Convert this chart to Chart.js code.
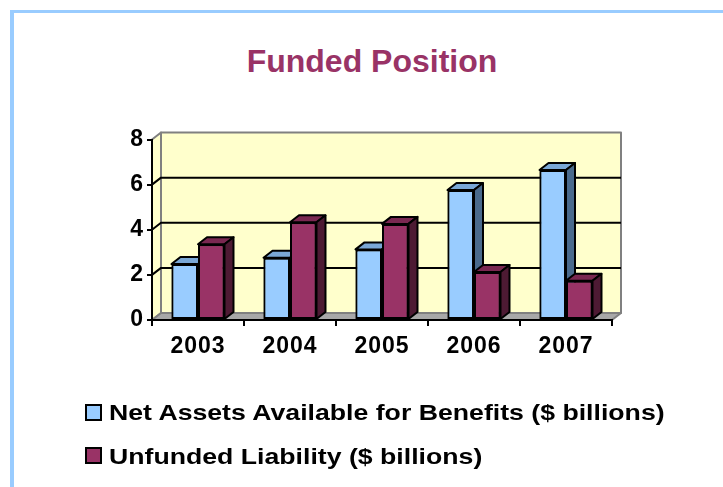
<!DOCTYPE html>
<html>
<head>
<meta charset="utf-8">
<script src="https://cdn.jsdelivr.net/npm/chart.js@4.4.1/dist/chart.umd.min.js"></script>
<style>
  html, body { margin: 0; padding: 0; background: #fff; }
  body { width: 723px; height: 487px; position: relative; overflow: hidden; font-family: "Liberation Sans", Arial, sans-serif; }
  #frame { position: absolute; left: 10px; top: 10px; width: 800px; height: 600px; border-left: 4px solid #99ccff; border-top: 3px solid #99ccff; }
  #title { position: absolute; left: 0; width: 744px; top: 44.6px; text-align: center; font-size: 32px; line-height: 32px; font-weight: bold; color: #993366; }
  canvas { position: absolute; left: 0; top: 0; }
  .box { position: absolute; left: 85px; width: 13px; height: 13px; border: 2px solid #000; }
  .lab { position: absolute; left: 109px; font-size: 22.5px; line-height: 22.5px; font-weight: bold; color: #000; white-space: nowrap; transform: scaleX(1.185); transform-origin: 0 0; }
</style>
</head>
<body>
<div id="frame"></div>
<div id="title">Funded Position</div>
<canvas id="chart" width="723" height="487"></canvas>
<div id="legend"></div>
<script>
const years = ['2003', '2004', '2005', '2006', '2007'];
const netAssets = [2.48, 2.76, 3.13, 5.76, 6.65];
const unfunded = [3.36, 4.33, 4.26, 2.13, 1.74];
const seriesNames = ['Net Assets Available for Benefits ($ billions)', 'Unfunded Liability ($ billions)'];

const fronts = ['#99ccff', '#993366'];
const faces = [
  { top: '#7aa7d6', side: '#4a6a8c' },
  { top: '#7a2851', side: '#4d1a33' }
];
const DX = 9, DY = 7;

// legend in html
const legend = document.getElementById('legend');
seriesNames.forEach((name, i) => {
  const b = document.createElement('div');
  b.className = 'box';
  b.style.top = (404 + i * 43) + 'px';
  b.style.background = fronts[i];
  const l = document.createElement('div');
  l.className = 'lab';
  l.style.top = (402 + i * 44) + 'px';
  l.textContent = name;
  legend.appendChild(b);
  legend.appendChild(l);
});

function poly(ctx, pts, fill, stroke, lw) {
  ctx.beginPath();
  ctx.moveTo(pts[0][0], pts[0][1]);
  for (let i = 1; i < pts.length; i++) ctx.lineTo(pts[i][0], pts[i][1]);
  ctx.closePath();
  if (fill) { ctx.fillStyle = fill; ctx.fill(); }
  if (stroke) { ctx.strokeStyle = stroke; ctx.lineWidth = lw; ctx.stroke(); }
}

const walls = {
  id: 'walls',
  beforeDraw(chart) {
    const { ctx, chartArea: a, scales: { y } } = chart;
    ctx.letterSpacing = '1px';
    ctx.save();
    ctx.lineJoin = 'round';
    // left wall + back wall
    poly(ctx, [[a.left, a.top], [a.left + DX, a.top - DY], [a.left + DX, a.bottom - DY], [a.left, a.bottom]], '#ffffcc', '#808080', 2);
    poly(ctx, [[a.left + DX, a.top - DY], [a.right + DX, a.top - DY], [a.right + DX, a.bottom - DY], [a.left + DX, a.bottom - DY]], '#ffffcc', '#808080', 2);
    // gridlines
    ctx.strokeStyle = '#000';
    ctx.lineWidth = 2;
    y.ticks.forEach(t => {
      if (t.value <= y.min || t.value >= y.max) return;
      const py = y.getPixelForValue(t.value);
      ctx.beginPath();
      ctx.moveTo(a.left, py);
      ctx.lineTo(a.left + DX, py - DY);
      ctx.lineTo(a.right + DX, py - DY);
      ctx.stroke();
    });
    // floor
    poly(ctx, [[a.left, a.bottom], [a.right, a.bottom], [a.right + DX, a.bottom - DY], [a.left + DX, a.bottom - DY]], '#a8a8a8', '#808080', 2);
    ctx.restore();
  },
  afterDatasetsDraw(chart) {
    const ctx = chart.ctx;
    const metas = chart.data.datasets.map((d, i) => chart.getDatasetMeta(i));
    ctx.save();
    ctx.lineJoin = 'round';
    years.forEach((yr, j) => {
      metas.forEach((meta, i) => {
        const bar = meta.data[j];
        bar.draw(ctx);
        const { x, y, base, width } = bar.getProps(['x', 'y', 'base', 'width'], true);
        const x0 = x - width / 2, x1 = x + width / 2;
        poly(ctx, [[x0, y], [x1, y], [x1 + DX, y - DY], [x0 + DX, y - DY]], faces[i].top, '#000', 2);
        poly(ctx, [[x1, y], [x1 + DX, y - DY], [x1 + DX, base - DY], [x1, base]], faces[i].side, '#000', 2);
      });
    });
    ctx.restore();
  },
  afterDraw(chart) {
    chart.ctx.letterSpacing = '0px';
  }
};

const tickFont = { family: "'Liberation Sans', Arial, sans-serif", size: 23, weight: 'bold' };

new Chart(document.getElementById('chart'), {
  type: 'bar',
  plugins: [walls],
  data: {
    labels: years,
    datasets: [
      { label: seriesNames[0], data: netAssets, backgroundColor: fronts[0] },
      { label: seriesNames[1], data: unfunded, backgroundColor: fronts[1] }
    ]
  },
  options: {
    responsive: false,
    animation: false,
    devicePixelRatio: 1,
    layout: { padding: { left: 100, right: 111, top: 139.5, bottom: 127 } },
    datasets: {
      bar: {
        borderColor: '#000',
        borderWidth: 2,
        borderSkipped: false,
        categoryPercentage: 0.576,
        barPercentage: 1
      }
    },
    plugins: {
      legend: { display: false },
      tooltip: { enabled: false },
      title: { display: false }
    },
    scales: {
      x: {
        afterFit: s => { s.height = 40; },
        grid: { drawOnChartArea: false, drawTicks: true, tickLength: 6, color: '#000', lineWidth: 2 },
        border: { display: true, color: '#000', width: 2 },
        ticks: { font: tickFont, color: '#000', padding: 7, maxRotation: 0 }
      },
      y: {
        min: 0,
        max: 8,
        afterFit: s => { s.width = 52; },
        grid: { drawOnChartArea: false, drawTicks: true, tickLength: 5, color: '#000', lineWidth: 2 },
        border: { display: true, color: '#000', width: 2 },
        ticks: { stepSize: 2, font: tickFont, color: '#000', padding: 3 }
      }
    }
  }
});
</script>
</body>
</html>
